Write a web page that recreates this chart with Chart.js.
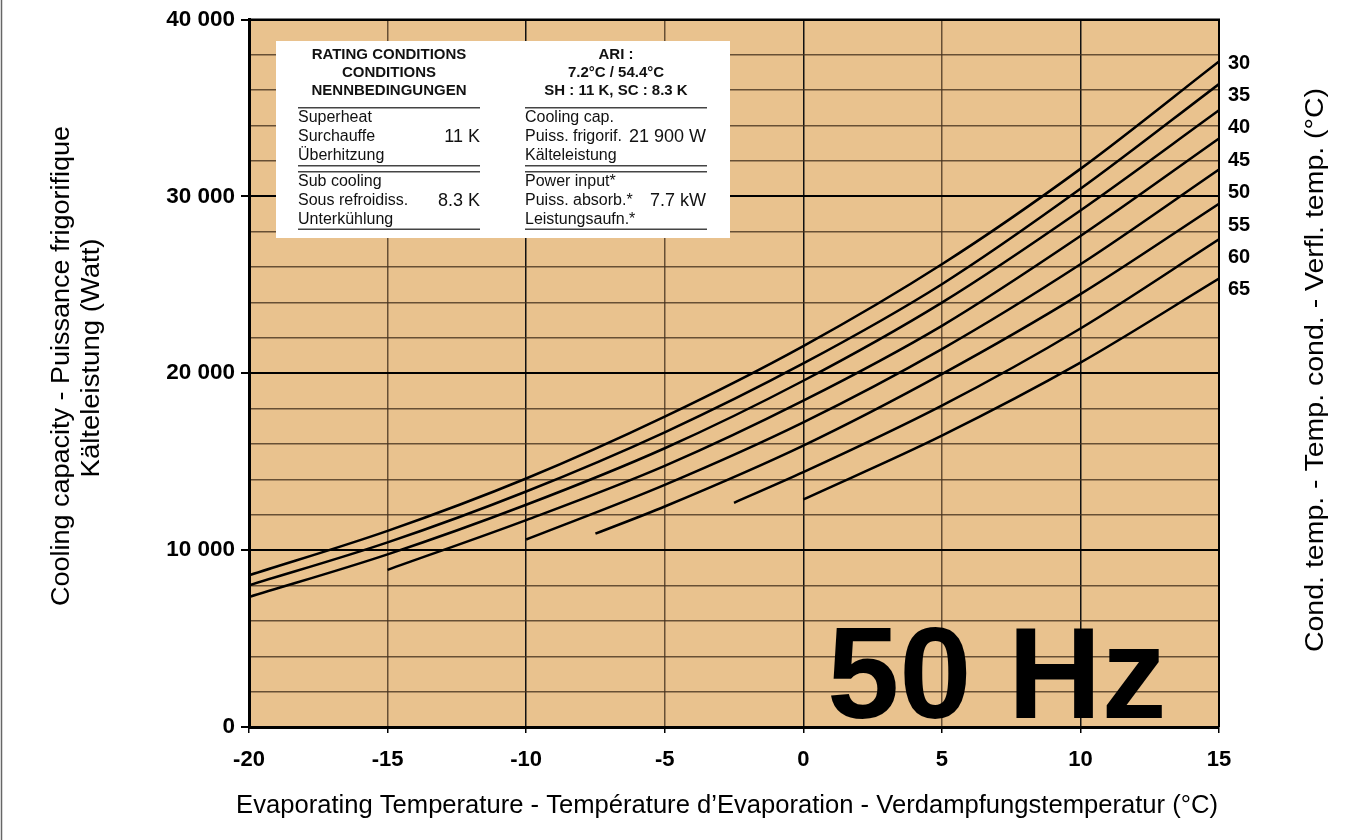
<!DOCTYPE html>
<html>
<head>
<meta charset="utf-8">
<script src="https://cdn.jsdelivr.net/npm/chart.js@4.4.1/dist/chart.umd.min.js"></script>
<style>
  body { margin: 0; background: #fff; }
  canvas { display: block; }
</style>
</head>
<body>
<canvas id="chart" width="1361" height="840"></canvas>
<script>
// -------------------------------
// Data
// -------------------------------
const xTicks = [-20, -15, -10, -5, 0, 5, 10, 15];
const condTemps = [30, 35, 40, 45, 50, 55, 60, 65];

// evaporating temps for each condensing curve
const evap30 = [-20, -15, -10, -5, 0, 5, 10, 15];
const evap35 = [-20, -15, -10, -5, 0, 5, 10, 15];
const evap40 = [-20, -15, -10, -5, 0, 5, 10, 15];
const evap45 = [-15, -10, -5, 0, 5, 10, 15];
const evap50 = [-10, -5, 0, 5, 10, 15];
const evap55 = [-7.5, -5, 0, 5, 10, 15];
const evap60 = [-2.5, 0, 5, 10, 15];
const evap65 = [0, 5, 10, 15];

// cooling capacity (W)
const cap30 = [8576, 11086, 14048, 17546, 21534, 26160, 31555, 37630];
const cap35 = [8011, 10437, 13315, 16660, 20553, 25032, 30425, 36350];
const cap40 = [7351, 9760, 12564, 15760, 19577, 23995, 29205, 34870];
const cap45 = [8886, 11696, 14763, 18449, 22680, 27757, 33270];
const cap50 = [10600, 13692, 17225, 21365, 26160, 31520];
const cap55 = [10928, 12468, 15910, 19950, 24470, 29580];
const cap60 = [12677, 14404, 18166, 22530, 27570];
const cap65 = [12863, 16474, 20600, 25350];

const curves = [
  [evap30, cap30], [evap35, cap35], [evap40, cap40], [evap45, cap45],
  [evap50, cap50], [evap55, cap55], [evap60, cap60], [evap65, cap65]
];

// -------------------------------
// Helpers
// -------------------------------
const SANS = '"Liberation Sans", Arial, sans-serif';

function fmtThousands(v) {
  return String(v).replace(/\B(?=(\d{3})+(?!\d))/g, " ");
}

function hline(ctx, x0, x1, y) {
  ctx.beginPath();
  ctx.moveTo(x0, y);
  ctx.lineTo(x1, y);
  ctx.stroke();
}

// vertical text, slightly stretched along its length like the scan
function vtext(ctx, text, x, y, size, stretch) {
  ctx.save();
  ctx.translate(x, y);
  ctx.rotate(-Math.PI / 2);
  ctx.scale(stretch, 1);
  ctx.textAlign = "center";
  ctx.textBaseline = "middle";
  ctx.font = size + "px " + SANS;
  ctx.fillText(text, 0, 0);
  ctx.restore();
}

// -------------------------------
// Decorations plugin
// -------------------------------
const decor = {
  id: "decor",
  beforeDraw(chart) {
    const { ctx, chartArea: a } = chart;
    ctx.save();
    ctx.fillStyle = "#fff";
    ctx.fillRect(0, 0, chart.width, chart.height);
    ctx.fillStyle = "#e9c28e";
    ctx.fillRect(a.left, a.top, a.right - a.left, a.bottom - a.top);
    ctx.restore();
  },
  afterDraw(chart) {
    const { ctx, chartArea: a } = chart;
    ctx.save();

    // top + right frame of plot
    ctx.strokeStyle = "#000";
    ctx.lineWidth = 2;
    ctx.beginPath();
    ctx.moveTo(a.left, a.top);
    ctx.lineTo(a.right, a.top);
    ctx.lineTo(a.right, a.bottom);
    ctx.stroke();

    // page frame on the left
    ctx.strokeStyle = "#666";
    ctx.lineWidth = 1.5;
    ctx.beginPath();
    ctx.moveTo(1.5, 0);
    ctx.lineTo(1.5, chart.height);
    ctx.stroke();

    // rating conditions box
    ctx.fillStyle = "#fff";
    ctx.fillRect(276, 41, 454, 197);
    ctx.fillStyle = "#111";
    ctx.textBaseline = "middle";
    ctx.textAlign = "center";
    ctx.font = "bold 15px " + SANS;
    ["RATING CONDITIONS", "CONDITIONS", "NENNBEDINGUNGEN"].forEach((t, i) => {
      ctx.fillText(t, 389, 54.5 + i * 18.3);
    });
    ["ARI :", "7.2°C / 54.4°C", "SH : 11 K, SC : 8.3 K"].forEach((t, i) => {
      ctx.fillText(t, 616, 54.5 + i * 18.3);
    });

    ctx.strokeStyle = "#444";
    ctx.lineWidth = 1.5;
    [[298, 480], [525, 707]].forEach(([x0, x1]) => {
      hline(ctx, x0, x1, 107.7);
      hline(ctx, x0, x1, 165.7);
      hline(ctx, x0, x1, 171.7);
      hline(ctx, x0, x1, 229.3);
    });

    ctx.textAlign = "left";
    ctx.font = "16px " + SANS;
    const rowsL = ["Superheat", "Surchauffe", "Überhitzung", "Sub cooling", "Sous refroidiss.", "Unterkühlung"];
    const rowsR = ["Cooling cap.", "Puiss. frigorif.", "Kälteleistung", "Power input*", "Puiss. absorb.*", "Leistungsaufn.*"];
    const rowY = [118, 137, 155.5, 182, 201, 219.5];
    rowsL.forEach((t, i) => ctx.fillText(t, 298, rowY[i]));
    rowsR.forEach((t, i) => ctx.fillText(t, 525, rowY[i]));

    ctx.textAlign = "right";
    ctx.font = "18px " + SANS;
    ctx.fillText("11 K", 480, 137);
    ctx.fillText("8.3 K", 480, 201);
    ctx.fillText("21 900 W", 706, 137);
    ctx.fillText("7.7 kW", 706, 201);

    // condensing temperature labels on the right
    ctx.textAlign = "left";
    ctx.fillStyle = "#000";
    ctx.font = "bold 20px " + SANS;
    condTemps.forEach((t, i) => ctx.fillText(String(t), 1228, 63 + i * 32.4));

    // axis titles
    vtext(ctx, "Cooling capacity - Puissance frigorifique", 62, 366, 25, 1.08);
    vtext(ctx, "Kälteleistung (Watt)", 92, 358, 25, 1.1);
    vtext(ctx, "Cond. temp. - Temp. cond. - Verfl. temp. (°C)", 1316, 370, 25, 1.14);

    ctx.textAlign = "center";
    ctx.font = "25.6px " + SANS;
    ctx.fillText("Evaporating Temperature - Température d’Evaporation - Verdampfungstemperatur (°C)", 727, 806);

    // 50 Hz
    ctx.textAlign = "left";
    ctx.textBaseline = "alphabetic";
    ctx.font = "bold 130px " + SANS;
    ctx.fillText("50 Hz", 827, 718);

    ctx.restore();
  }
};

// -------------------------------
// Chart
// -------------------------------
new Chart(document.getElementById("chart"), {
  type: "line",
  data: {
    datasets: curves.map(([xs, ys], i) => ({
      label: condTemps[i] + " °C",
      data: xs.map((x, j) => ({ x: x, y: ys[j] })),
      borderColor: "#000",
      borderWidth: 2.5,
      pointRadius: 0,
      fill: false,
      cubicInterpolationMode: "monotone"
    }))
  },
  options: {
    responsive: false,
    animation: false,
    layout: { padding: { top: 18, right: 142, left: 0, bottom: 0 } },
    plugins: { legend: { display: false }, tooltip: { enabled: false } },
    scales: {
      x: {
        type: "linear",
        min: xTicks[0],
        max: xTicks[xTicks.length - 1],
        afterBuildTicks: s => { s.ticks = xTicks.map(v => ({ value: v })); },
        afterFit: s => { s.height = 113; },
        border: { color: "#000", width: 3 },
        grid: {
          color: c => (c.tick && c.tick.value % 10 === 0 ? "#111" : "rgba(70,50,30,0.8)"),
          lineWidth: 1.5,
          tickColor: "#000",
          tickLength: 6
        },
        ticks: {
          color: "#000",
          padding: 14,
          maxRotation: 0,
          font: { family: SANS, size: 22, weight: "bold" }
        }
      },
      y: {
        min: 0,
        max: 40000,
        afterFit: s => { s.width = 249; },
        border: { color: "#000", width: 3 },
        grid: {
          color: c => (c.tick && c.tick.value % 10000 === 0 ? "#000" : "rgba(70,50,30,0.8)"),
          lineWidth: c => (c.tick && c.tick.value % 10000 === 0 ? 2 : 1.5),
          tickColor: c => (c.tick && c.tick.value % 10000 === 0 ? "#000" : "rgba(0,0,0,0)"),
          tickLength: 8
        },
        ticks: {
          stepSize: 2000,
          color: "#000",
          padding: 6,
          font: { family: SANS, size: 22.5, weight: "bold" },
          callback: v => (v % 10000 === 0 ? fmtThousands(v) : "")
        }
      }
    }
  },
  plugins: [decor]
});
</script>
</body>
</html>
